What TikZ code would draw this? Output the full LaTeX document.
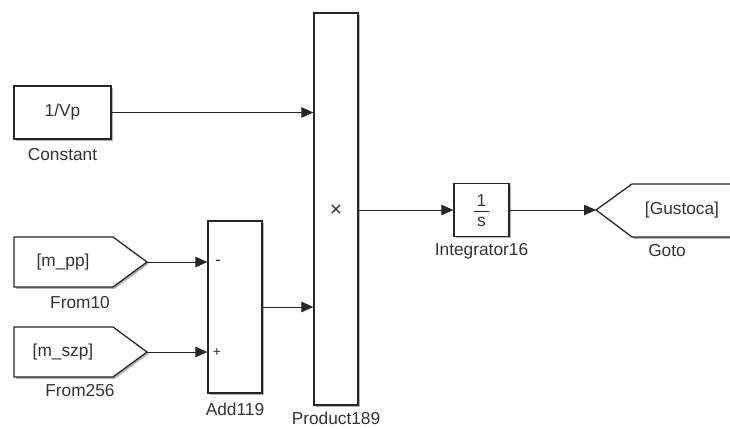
\documentclass[tikz,border=0pt]{standalone}
\usepackage{fontspec}
\setmainfont{Liberation Sans}
\usetikzlibrary{arrows.meta,shadows}
\definecolor{ink}{HTML}{262626}
\definecolor{txt}{HTML}{333333}
\begin{document}
\begin{tikzpicture}[x=1pt,y=-1pt,
  font=\fontsize{17.3}{19}\selectfont,
  shd/.style={drop shadow={shadow xshift=1.8pt,shadow yshift=-1.8pt,opacity=0.3,fill=black}},
  blk/.style={draw=ink,line width=1.3pt,fill=white,inner sep=0pt,text=txt,shd},
  lbl/.style={text=txt,inner sep=0pt},
  wire/.style={draw=ink,line width=1pt,-{Triangle[length=12pt,width=10.5pt]}}]
\useasboundingbox (0,0) rectangle (730,428);
\clip (0,0) rectangle (730,428);

% Constant
\node[blk,minimum width=97pt,minimum height=53pt] (const) at (62.5,112.5) {1/Vp};
\node[lbl] (constl) at (62.5,155) {Constant};

% Product
\node[blk,minimum width=44pt,minimum height=392pt] (prod) at (336,209) {};
\node[lbl,font=\fontsize{21}{22}\selectfont] (prodx) at (336,211) {×};
\node[lbl] (prodl) at (336,418) {Product189};

% Add
\node[blk,minimum width=54pt,minimum height=172pt] (add) at (235,307) {};
\node[lbl] (addm) at (218,263) {-};
\node[lbl,font=\fontsize{14}{15}\selectfont] (addp) at (217,352) {+};
\node[lbl] (addl) at (235,409) {Add119};

% From10
\draw[draw=ink,line width=1.3pt,fill=white,shd] (14,237) -- (113,237) -- (147,262) -- (113,287) -- (14,287) -- cycle;
\coordinate (f10out) at (147,262);
\node[lbl] (f10) at (63,262) {[m\_pp]};
\node[lbl] (f10l) at (80,303) {From10};

% From256
\draw[draw=ink,line width=1.3pt,fill=white,shd] (14,327) -- (113,327) -- (147,352) -- (113,377) -- (14,377) -- cycle;
\coordinate (f256out) at (147,352);
\node[lbl] (f256) at (63,352) {[m\_szp]};
\node[lbl] (f256l) at (80,391) {From256};

% Integrator
\node[blk,minimum width=55pt,minimum height=53pt] (integ) at (481.5,210) {};
\node[lbl] (intn) at (481.5,201) {1};
\draw[ink,line width=0.8pt] (474,211) -- (489,211);
\node[lbl] (ints) at (481.5,222) {s};
\node[lbl] (integl) at (481.5,251) {Integrator16};

% Goto
\draw[draw=ink,line width=1.3pt,fill=white,shd] (596,210) -- (632,184) -- (745,184) -- (745,237) -- (632,237) -- cycle;
\coordinate (gotoin) at (596,210);
\node[lbl] (goto) at (682,210) {[Gustoca]};
\node[lbl] (gotol) at (667,251) {Goto};

% Wires
\draw[wire] (const.east) -- (const.east -| prod.west);
\draw[wire] (f10out) -- (f10out -| add.west);
\draw[wire] (f256out) -- (f256out -| add.west);
\draw[wire] (add.east) -- (add.east -| prod.west);
\draw[wire] (prod.east |- integ.west) -- (integ.west);
\draw[wire] (integ.east) -- (gotoin);
\end{tikzpicture}
\end{document}
